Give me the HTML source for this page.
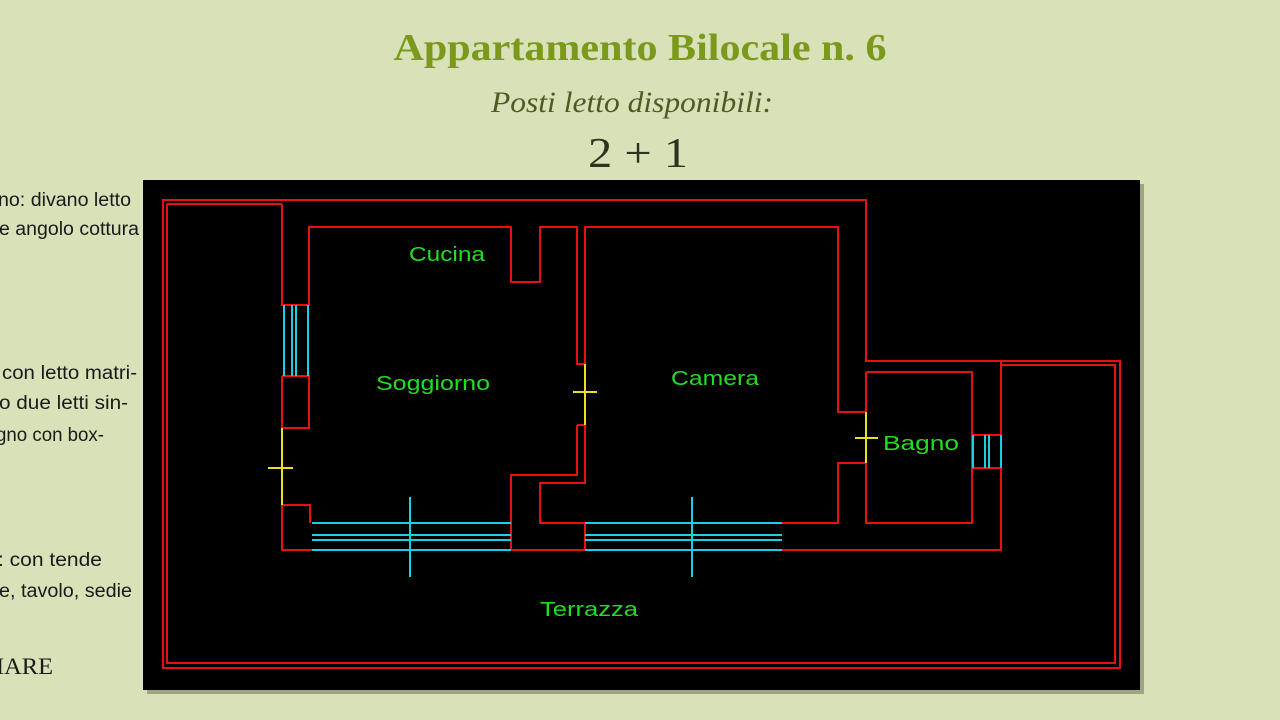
<!DOCTYPE html>
<html><head><meta charset="utf-8"><style>
html,body{margin:0;padding:0;width:1280px;height:720px;overflow:hidden;background:#d9e1b9;}
svg{position:absolute;left:0;top:0;}
</style></head><body>
<svg width="1280" height="720" viewBox="0 0 1280 720" xmlns="http://www.w3.org/2000/svg">
<rect width="1280" height="720" fill="#d9e1b9"/>
<text x="640" y="60" text-anchor="middle" font-family="Liberation Serif, serif" font-weight="bold" font-size="38" fill="#7b9a1c" textLength="493" lengthAdjust="spacingAndGlyphs">Appartamento Bilocale n. 6</text>
<text x="632" y="112" text-anchor="middle" font-family="Liberation Serif, serif" font-style="italic" font-size="30" fill="#4e5a22" textLength="282" lengthAdjust="spacingAndGlyphs">Posti letto disponibili:</text>
<text x="638" y="167" text-anchor="middle" font-family="Liberation Serif, serif" font-size="42" fill="#2e3320" textLength="100" lengthAdjust="spacingAndGlyphs">2 + 1</text>
<g font-family="Liberation Sans, Arial, sans-serif" font-size="19" fill="#1a1a1a" lengthAdjust="spacingAndGlyphs">
<text x="-2" y="206" textLength="133" lengthAdjust="spacingAndGlyphs">no: divano letto</text>
<text x="-1" y="235" textLength="140" lengthAdjust="spacingAndGlyphs">e angolo cottura</text>
<text x="2" y="379" textLength="135" lengthAdjust="spacingAndGlyphs">con letto matri-</text>
<text x="-1" y="409" textLength="129" lengthAdjust="spacingAndGlyphs">o due letti sin-</text>
<text x="-4" y="441" textLength="108" lengthAdjust="spacingAndGlyphs">gno con box-</text>
<text x="-2" y="566" textLength="104" lengthAdjust="spacingAndGlyphs">: con tende</text>
<text x="-1" y="597" textLength="133" lengthAdjust="spacingAndGlyphs">e, tavolo, sedie</text>
</g>
<text x="-4" y="674" font-family="Liberation Serif, serif" font-size="23" fill="#1a1a1a" textLength="57" lengthAdjust="spacingAndGlyphs">IARE</text>
<rect x="147" y="184" width="997" height="510" fill="#7a7a60" opacity="0.6"/>
<rect x="143" y="180" width="997" height="510" fill="#000"/>
<g fill="none" stroke="#e81010" stroke-width="2">
<path d="M163 200 H866 V361 H1120 V668 H163 Z"/>
<path d="M167 204 H282 M167 204 V663 H1115 V365 H1001"/>
<path d="M282 204 V305 H309 V227 H511 V282 H540 V227 H577 V364 H585 V227 H838 V412 H866"/>
<path d="M282 376 H309 V428 H282 V376"/>
<path d="M282 505 H310 V523 M282 505 V550 H312"/>
<path d="M577 425 H585 V483 H540 V523 H585 V550 M577 425 V475 H511 V550 H585"/>
<path d="M866 463 H838 V523 H782 M782 550 H1001 V361"/>
<path d="M866 372 H972 V523 H866 V463 M866 372 V412"/>
<path d="M972 435 H1001 M972 468 H1001"/>
</g>
<g stroke="#18d0e0" stroke-width="2" fill="none">
<path d="M284 305 V376 M292 305 V376 M296 305 V376 M308 305 V376"/>
<path d="M312 523 H511 M312 535 H511 M312 540 H511 M312 550 H511 M410 497 V577"/>
<path d="M585 523 H782 M585 535 H782 M585 540 H782 M585 550 H782 M692 497 V577"/>
<path d="M973 435 V468 M985 435 V468 M989 435 V468 M1001 435 V468"/>
</g>
<g stroke="#e8e020" stroke-width="2" fill="none">
<path d="M282 428 V505 M268 468 H293"/>
<path d="M585 364 V425 M573 392 H597"/>
<path d="M866 412 V463 M855 438 H878"/>
</g>
<g font-family="Liberation Sans, sans-serif" font-size="20" fill="#22dd22" text-anchor="middle">
<text x="447" y="261" textLength="76" lengthAdjust="spacingAndGlyphs">Cucina</text>
<text x="433" y="390" textLength="114" lengthAdjust="spacingAndGlyphs">Soggiorno</text>
<text x="715" y="385" textLength="88" lengthAdjust="spacingAndGlyphs">Camera</text>
<text x="921" y="450" textLength="76" lengthAdjust="spacingAndGlyphs">Bagno</text>
<text x="589" y="616" textLength="98" lengthAdjust="spacingAndGlyphs">Terrazza</text>
</g>
</svg>
</body></html>
